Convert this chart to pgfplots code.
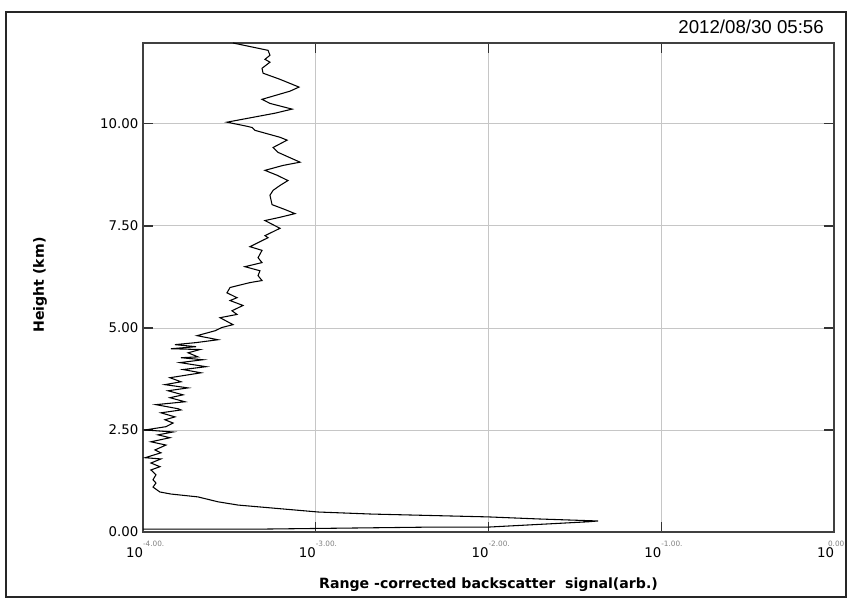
\documentclass[border=0pt]{standalone}
\usepackage{pgfplots}
\pgfplotsset{compat=1.18}
\usepackage{fontspec}
\setmainfont{DejaVu Sans}
\newfontfamily\titlefont{Liberation Sans}

\pgfplotstableread{
x y
-3.479 11.98
-3.276 11.80
-3.265 11.68
-3.294 11.58
-3.265 11.51
-3.311 11.36
-3.305 11.24
-3.207 11.09
-3.097 10.90
-3.149 10.80
-3.311 10.60
-3.265 10.50
-3.137 10.36
-3.236 10.26
-3.514 10.04
-3.398 9.94
-3.369 9.91
-3.352 9.84
-3.207 9.67
-3.166 9.60
-3.247 9.42
-3.218 9.30
-3.091 9.06
-3.190 8.98
-3.294 8.86
-3.224 8.74
-3.161 8.61
-3.207 8.49
-3.247 8.37
-3.265 8.25
-3.253 8.02
-3.178 7.90
-3.120 7.80
-3.207 7.71
-3.294 7.63
-3.207 7.44
-3.294 7.26
-3.276 7.21
-3.381 6.99
-3.311 6.90
-3.334 6.72
-3.311 6.60
-3.410 6.50
-3.323 6.40
-3.334 6.28
-3.311 6.16
-3.381 6.11
-3.496 5.99
-3.514 5.86
-3.456 5.74
-3.496 5.67
-3.421 5.55
-3.485 5.42
-3.456 5.33
-3.554 5.25
-3.479 5.08
-3.543 5.01
-3.583 4.93
-3.687 4.81
-3.566 4.71
-3.693 4.64
-3.815 4.59
-3.693 4.54
-3.838 4.49
-3.670 4.47
-3.739 4.39
-3.682 4.29
-3.780 4.27
-3.653 4.22
-3.786 4.15
-3.635 4.05
-3.768 3.98
-3.664 3.90
-3.844 3.78
-3.780 3.68
-3.873 3.61
-3.739 3.53
-3.855 3.46
-3.768 3.36
-3.844 3.29
-3.757 3.19
-3.925 3.12
-3.797 3.02
-3.780 2.99
-3.896 2.92
-3.815 2.82
-3.873 2.75
-3.826 2.67
-3.867 2.58
-3.988 2.50
-3.826 2.45
-3.913 2.38
-3.844 2.31
-3.954 2.21
-3.867 2.13
-3.931 2.01
-3.896 1.94
-3.988 1.82
-3.896 1.79
-3.954 1.69
-3.902 1.60
-3.954 1.52
-3.925 1.40
-3.942 1.28
-3.925 1.20
-3.942 1.10
-3.902 0.98
-3.838 0.93
-3.682 0.86
-3.566 0.74
-3.450 0.66
-3.259 0.59
-2.987 0.49
-2.680 0.44
-2.003 0.37
-1.713 0.32
-1.366 0.27
-1.424 0.25
-2.003 0.12
-2.333 0.12
-3.334 0.07
-4.000 0.07
}\profile

\begin{document}
\begin{tikzpicture}
\begin{axis}[
  at={(0,0)}, anchor=south west,
  scale only axis,
  width=518.25pt, height=366.75pt,
  xmin=-4, xmax=0, ymin=0, ymax=11.98,
  xtick={-4,-3,-2,-1,0},
  ytick={0,2.5,5,7.5,10},
  xticklabels={
    {\makebox[0pt][r]{10}\makebox[0pt][l]{\raisebox{1.45ex}{\fontsize{5.5}{6}\selectfont\color{gray}-4.00.}}},
    {\makebox[0pt][r]{10}\makebox[0pt][l]{\raisebox{1.45ex}{\fontsize{5.5}{6}\selectfont\color{gray}-3.00.}}},
    {\makebox[0pt][r]{10}\makebox[0pt][l]{\raisebox{1.45ex}{\fontsize{5.5}{6}\selectfont\color{gray}-2.00.}}},
    {\makebox[0pt][r]{10}\makebox[0pt][l]{\raisebox{1.45ex}{\fontsize{5.5}{6}\selectfont\color{gray}-1.00.}}},
    {\makebox[0pt][r]{10}\makebox[0pt][l]{\hspace{-4.5pt}\raisebox{1.45ex}{\fontsize{5.5}{6}\selectfont\color{gray}0.00}}}},
  yticklabels={0.00,2.50,5.00,7.50,10.00},
  tick label style={font=\fontsize{10}{12}\selectfont},
  xticklabel style={anchor=north, yshift=-3.5pt},
  grid=major,
  grid style={gray!45, line width=0.6pt},
  axis line style={black!75, line width=1pt},
  tick align=inside,
  tick pos=both,
  major tick length=7.5pt,
  tick style={black!80, line width=1pt},
  xlabel={Range -corrected backscatter\ \ signal(arb.)},
  xlabel style={font=\bfseries\fontsize{10.6}{12}\selectfont, at={(axis description cs:0.5,0)}, anchor=base, yshift=-42pt},
]
\addplot[black, line width=0.8pt] table[x=x, y=y] {\profile};
\end{axis}
\begin{scope}[shift={(-107.25pt,399pt)}, x=0.75pt, y=-0.75pt]
  \useasboundingbox (0,0) rectangle (848,599);
  \draw[black!85, line width=0.9pt] (6,12) rectangle (846,597);
  \node[anchor=base east, font=\titlefont\fontsize{14}{16}\selectfont, inner sep=0pt] at (824,34) {2012/08/30 05:56};
  \node[rotate=90, font=\bfseries\fontsize{10.6}{12}\selectfont] at (40,285) {Height (km)};
\end{scope}
\end{tikzpicture}
\end{document}
